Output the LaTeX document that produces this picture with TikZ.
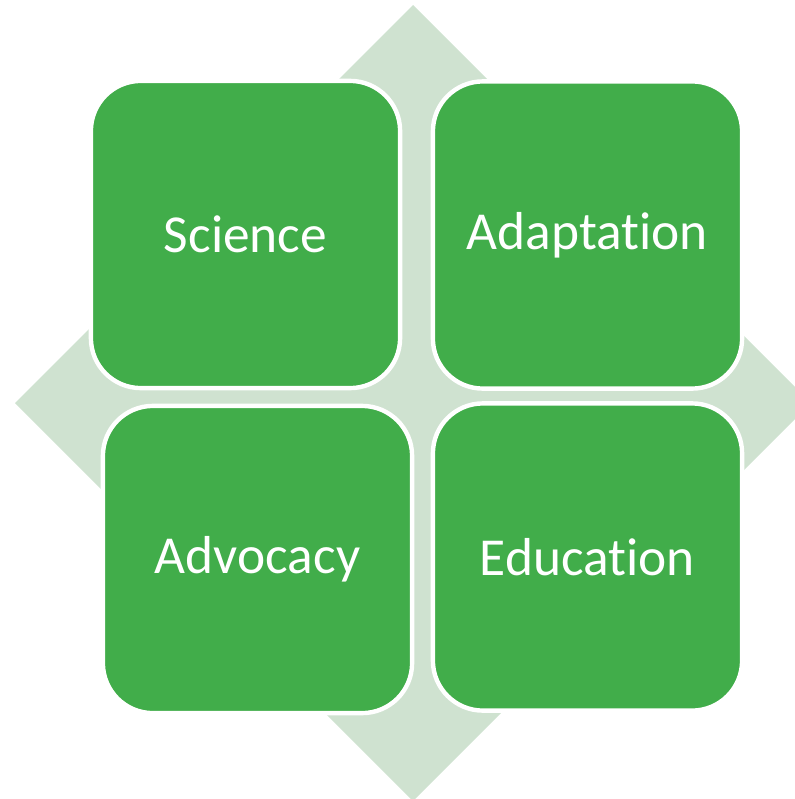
\documentclass[tikz,border=0pt]{standalone}
\usepackage{fontspec}
\setmainfont[Ligatures=NoCommon]{Carlito}
\usetikzlibrary{calc}
\usetikzlibrary{positioning}
\definecolor{tilegreen}{RGB}{65,173,74}
\definecolor{diamondgreen}{RGB}{207,226,208}
\tikzset{
	tile/.style={
		rectangle, 
		rounded corners=12.5mm, 
		fill=tilegreen,
		draw=white, line width=1.1mm,
		minimum width=77.3mm, 
		minimum height=76.8mm, 
		text=white,
		font=\fontsize{38}{45}\selectfont,
		text centered},
	backdrop/.style={fill=diamondgreen, draw=none},
}
\begin{document}
\begin{tikzpicture}
	 		[x=0.25mm, y=-0.25mm]
	 		
	 		\useasboundingbox (0,0) rectangle (794,799);
	 		% diamond behind the tiles
	 		\path[backdrop] (413,5) -- (811,403) -- (413,801) -- (15,403) -- cycle;
	 		
	 		\node[tile] (science)    at (245.5,234.5) {Science};
	 		\node[tile] (adaptation) at (587.5,235)   {Adaptation};
	 		\node[tile] (advocacy)   at (257.5,559.5) {Advocacy};
	 		\node[tile] (education)  at (587.5,557)   {Education};
	 		
	 		\end{tikzpicture}
\end{document}
